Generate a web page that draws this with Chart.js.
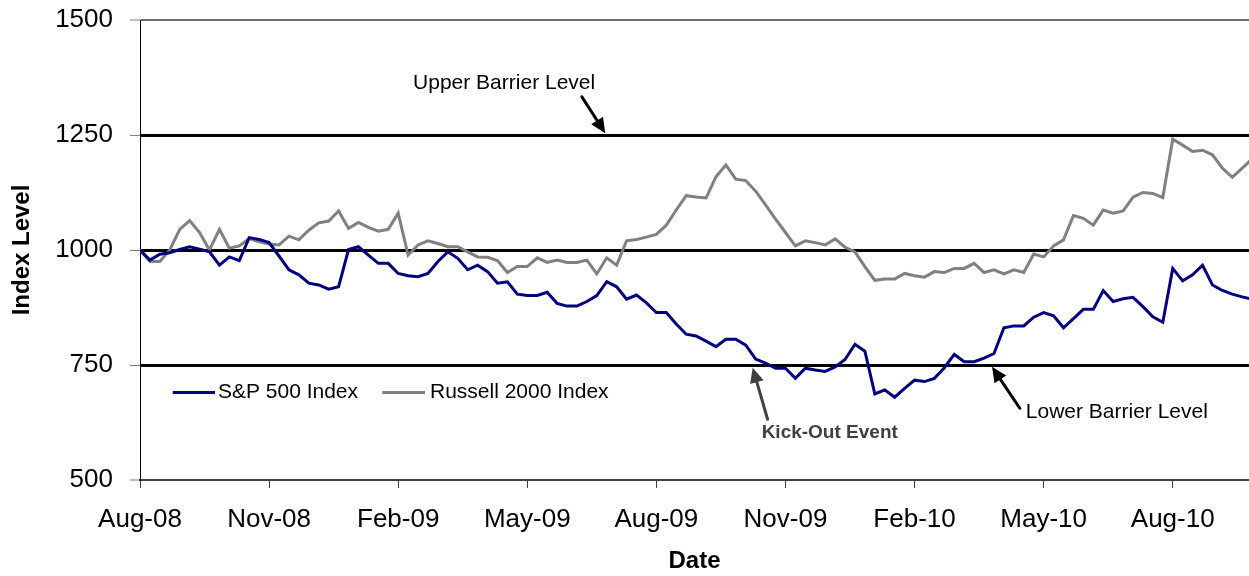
<!DOCTYPE html>
<html>
<head>
<meta charset="utf-8">
<script src="https://cdn.jsdelivr.net/npm/chart.js@4.4.1/dist/chart.umd.min.js"></script>
<style>
html,body{margin:0;padding:0;background:#fff;}
#wrap{width:1249px;height:576px;position:relative;}
</style>
</head>
<body>
<div id="wrap"><canvas id="c" width="1249" height="576"></canvas></div>
<script>
// ---- data ----
const tickLabels = ['Aug-08','Nov-08','Feb-09','May-09','Aug-09','Nov-09','Feb-10','May-10','Aug-10'];
const tickWeeks = [0,13,26,39,52,65,78,91,104];
const yTickValues = [500,750,1000,1250,1500];
const seriesNames = ['S&P 500 Index','Russell 2000 Index'];
const sp500 = [1000,978,991,994,1001,1007,1002,996,967,985,977,1027,1023,1016,987,957,946,928,924,915,
  920,1001,1007,989,971,971,949,944,942,949,975,996,982,957,967,953,928,931,904,901,
  901,908,884,878,878,888,901,931,920,893,902,885,864,864,839,817,813,802,790,806,
  806,793,763,754,743,743,721,743,739,736,746,762,795,780,687,696,680,699,717,714,
  721,744,773,757,757,765,775,831,835,835,854,864,857,831,851,871,871,912,888,894,
  897,877,855,843,960,933,946,967,924,912,904,898,893];
const russell2000 = [1000,975,975,1000,1045,1064,1038,1000,1045,1004,1009,1025,1018,1013,1011,1030,1022,1043,1059,1063,
  1085,1047,1060,1049,1041,1045,1080,989,1011,1020,1014,1007,1007,996,985,984,977,951,964,964,
  983,973,978,973,973,978,948,983,967,1020,1023,1028,1034,1054,1087,1118,1115,1113,1159,1185,
  1154,1151,1128,1098,1067,1038,1009,1020,1016,1011,1024,1006,996,964,934,937,937,949,944,941,
  953,951,960,960,971,951,957,948,957,951,991,985,1009,1022,1075,1069,1054,1087,1080,1085,
  1115,1125,1123,1114,1241,1228,1214,1217,1207,1178,1158,1178,1198];
const annotationTexts = ['Upper Barrier Level','Kick-Out Event','Lower Barrier Level'];

// ---- layout / style config (positions in data units) ----
const FONT = "'Liberation Sans', Arial, sans-serif";
const colors = ['#000080','#808080'];
const annot = [
  {text:0, tx:27.5, ty:1363, align:'left', bold:false, size:21, color:'#000',
   ax0:44.5, ay0:1333, ax1:46.85, ay1:1254},
  {text:1, tx:62.6, ty:602, align:'left', bold:true, size:19, color:'#404040',
   ax0:63.2, ay0:632, ax1:61.7, ay1:744},
  {text:2, tx:89.2, ty:648, align:'left', bold:false, size:21, color:'#000',
   ax0:88.6, ay0:656, ax1:85.8, ay1:746}
];
const legendPos = {y:690, items:[{x0:3.3,x1:7.55,tx:7.85},{x0:24.4,x1:28.7,tx:29.2}]};

function arrow(ctx,x0,y0,x1,y1,color,w){
  const a = Math.atan2(y1-y0,x1-x0);
  const hl = 15, hw = 7;
  const bx = x1 - hl*Math.cos(a), by = y1 - hl*Math.sin(a);
  ctx.strokeStyle = color; ctx.lineWidth = w; ctx.lineCap='round';
  ctx.beginPath(); ctx.moveTo(x0,y0); ctx.lineTo(bx,by); ctx.stroke();
  ctx.fillStyle = color;
  ctx.beginPath(); ctx.moveTo(x1,y1);
  ctx.lineTo(bx + hw*Math.sin(a), by - hw*Math.cos(a));
  ctx.lineTo(bx - hw*Math.sin(a), by + hw*Math.cos(a));
  ctx.closePath(); ctx.fill();
}

const overlay = {
  id:'overlay',
  afterDatasetsDraw(chart){
    const {ctx, scales:{x,y}} = chart;
    ctx.save();
    // legend
    ctx.textBaseline = 'middle'; ctx.textAlign = 'left';
    ctx.font = '21px ' + FONT;
    const ly = y.getPixelForValue(legendPos.y);
    legendPos.items.forEach((it,i)=>{
      ctx.strokeStyle = colors[i]; ctx.lineWidth = 3; ctx.lineCap='butt';
      ctx.beginPath(); ctx.moveTo(x.getPixelForValue(it.x0), ly); ctx.lineTo(x.getPixelForValue(it.x1), ly); ctx.stroke();
      ctx.fillStyle = '#000';
      ctx.fillText(seriesNames[i], x.getPixelForValue(it.tx), ly);
    });
    // annotations
    annot.forEach(a=>{
      arrow(ctx, x.getPixelForValue(a.ax0), y.getPixelForValue(a.ay0),
                 x.getPixelForValue(a.ax1), y.getPixelForValue(a.ay1), a.color, 3);
      ctx.font = (a.bold?'bold ':'') + a.size + 'px ' + FONT;
      ctx.fillStyle = a.color; ctx.textAlign = a.align; ctx.textBaseline='middle';
      ctx.fillText(annotationTexts[a.text], x.getPixelForValue(a.tx), y.getPixelForValue(a.ty));
    });
    ctx.restore();
  }
};

new Chart(document.getElementById('c'), {
  type:'line',
  data:{
    datasets:[
      {label:seriesNames[0], data:sp500.map((v,i)=>({x:i,y:v})), borderColor:colors[0], borderWidth:3,
       pointRadius:0, tension:0, fill:false},
      {label:seriesNames[1], data:russell2000.map((v,i)=>({x:i,y:v})), borderColor:colors[1], borderWidth:3,
       pointRadius:0, tension:0, fill:false}
    ]
  },
  options:{
    responsive:false,
    animation:false,
    devicePixelRatio:1,
    layout:{padding:{top:20,right:0,bottom:0,left:0}},
    plugins:{legend:{display:false}, tooltip:{enabled:false}},
    scales:{
      x:{
        type:'linear', min:0, max:111.68,
        afterBuildTicks(s){ s.ticks = tickWeeks.map(v=>({value:v})); },
        afterFit(s){ s.height = 96; s.paddingLeft = 0; s.paddingRight = 0; },
        ticks:{autoSkip:false, maxRotation:0, padding:16, color:'#000',
               font:{family:FONT,size:26},
               callback:(v,i)=>tickLabels[i]},
        grid:{drawOnChartArea:false, drawTicks:true, tickLength:8, tickColor:'#404040', tickWidth:1},
        border:{display:true, color:'#404040', width:2},
        title:{display:true, text:'Date', color:'#000', font:{family:FONT,size:24,weight:'bold'}, padding:{top:0,bottom:0}}
      },
      y:{
        min:500, max:1500,
        afterBuildTicks(s){ s.ticks = yTickValues.map(v=>({value:v})); },
        afterFit(s){ s.width = 140; s.paddingTop = 0; s.paddingBottom = 0; },
        ticks:{padding:17, color:'#000', font:{family:FONT,size:26}, callback:v=>String(v)},
        grid:{
          drawTicks:true, tickLength:10, tickColor:'#808080', tickWidth:1,
          color:c=> c.tick && c.tick.value===1500 ? '#6e6e6e' : (c.tick && c.tick.value===500 ? '#404040' : '#000'),
          lineWidth:c=> c.tick && (c.tick.value===1500 || c.tick.value===500) ? 2 : 3
        },
        border:{display:true, color:'#000', width:1},
        title:{display:true, text:'Index Level', color:'#000', font:{family:FONT,size:24,weight:'bold'}, padding:{top:8,bottom:0}}
      }
    }
  },
  plugins:[overlay]
});
</script>
</body>
</html>
